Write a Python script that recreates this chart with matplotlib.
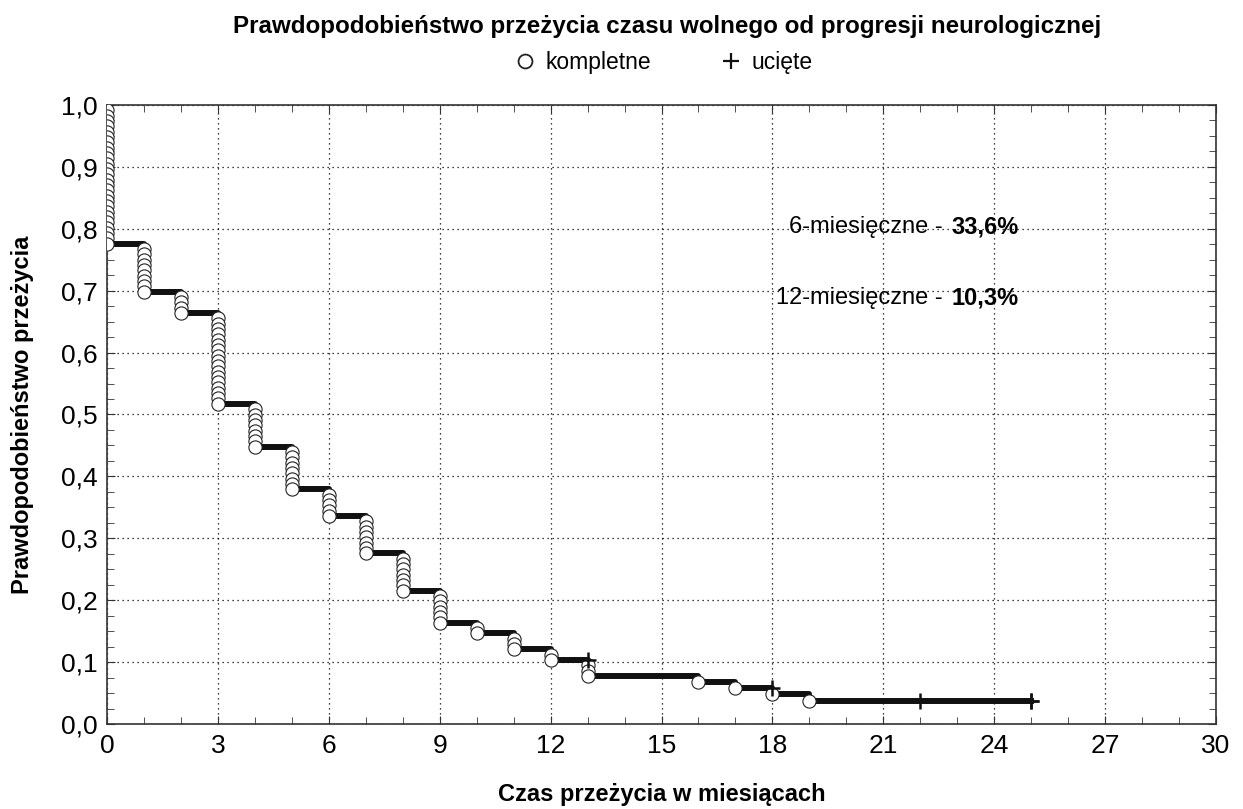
import matplotlib
matplotlib.use('Agg')
from matplotlib import pyplot as plt
from matplotlib.lines import Line2D
from matplotlib.ticker import MultipleLocator, FuncFormatter

plt.rcParams['font.family'] = ['Liberation Sans', 'DejaVu Sans']

# raw counts (n = 116)
n_total = 116
event_times = [0, 1, 2, 3, 4, 5, 6, 7, 8, 9, 10, 11, 12, 13, 16, 17, 18, 19]
event_counts = [26, 9, 4, 17, 8, 8, 5, 7, 7, 6, 2, 3, 2, 3, 1, 1, 1, 1]
censor_times = [13, 18, 22, 25, 25]
end_time = 25

# Kaplan-Meier estimate
at_risk = n_total
surv = 1.0
circle_t, circle_s = [], []
step_t, step_s = [], []
censor_s = []
for t, d in zip(event_times, event_counts):
    before = surv
    for j in range(d):
        surv = surv * (at_risk - 1) / at_risk
        at_risk -= 1
        circle_t.append(t)
        circle_s.append(surv)
    step_t.append(t)
    step_s.append(surv)
    for c in censor_times:
        if c == t:
            censor_s.append(before)  # drawn above the stack, as in the source
            at_risk -= 1
for c in censor_times:
    if c not in event_times:
        censor_s.append(surv)
step_t.append(end_time)
step_s.append(surv)

fig = plt.figure(figsize=(12.43, 8.09), dpi=100)
ax = fig.add_axes([107/1243, 85/809, 1109/1243, 619/809])

ax.step(step_t, step_s, where='post', color='#111111', lw=4.3, zorder=3)
ax.plot(circle_t, circle_s, 'o', ms=9.5, mfc='white', mec='#222222', mew=0.8,
        zorder=4, linestyle='none')
ax.plot(censor_times, censor_s, '+', ms=11, mew=1.8, color='#111111',
        zorder=5, linestyle='none')

ax.set_xlim(0, 30)
ax.set_ylim(0, 1.0)
ax.xaxis.set_major_locator(MultipleLocator(3))
ax.xaxis.set_minor_locator(MultipleLocator(1))
ax.yaxis.set_major_locator(MultipleLocator(0.1))
ax.yaxis.set_minor_locator(MultipleLocator(0.025))
ax.yaxis.set_major_formatter(FuncFormatter(lambda v, p: f'{v:.1f}'.replace('.', ',')))
ax.tick_params(which='both', direction='in', top=True, right=True,
               labelsize=19, color='#333333')
ax.tick_params(which='major', length=6, pad=7)
ax.tick_params(which='minor', length=5)
ax.grid(True, which='major', color='black', linestyle=(0, (1, 3)), lw=0.9)
for s in ax.spines.values():
    s.set_color('#333333')
    s.set_linewidth(1.2)

ax.set_xlabel('Czas przeżycia w miesiącach', fontsize=17, fontweight='bold', labelpad=18)
ax.set_ylabel('Prawdopodobieństwo przeżycia', fontsize=17, fontweight='bold', labelpad=19)

ax.text(22.6, 0.803, '6-miesięczne -', ha='right', va='center', fontsize=17)
ax.text(22.85, 0.803, '33,6%', ha='left', va='center', fontsize=17, fontweight='bold')
ax.text(22.6, 0.688, '12-miesięczne -', ha='right', va='center', fontsize=17)
ax.text(22.85, 0.688, '10,3%', ha='left', va='center', fontsize=17, fontweight='bold')

fig.text(667/1243, 1 - 27/809, 'Prawdopodobieństwo przeżycia czasu wolnego od progresji neurologicznej',
         ha='center', va='center', fontsize=17.4, fontweight='bold')
handles = [Line2D([], [], marker='o', ms=10, mfc='white', mec='#222222', mew=1.3, linestyle='none'),
           Line2D([], [], marker='+', ms=12, mew=1.6, color='#111111', linestyle='none')]
fig.legend(handles, ['kompletne', 'ucięte'], loc='center', bbox_to_anchor=(663/1243, 1 - 63/809),
           ncol=2, frameon=False, fontsize=16.5, handletextpad=0.4, columnspacing=3.0,
           handlelength=1.0)

fig.savefig('out.png', dpi=100)
